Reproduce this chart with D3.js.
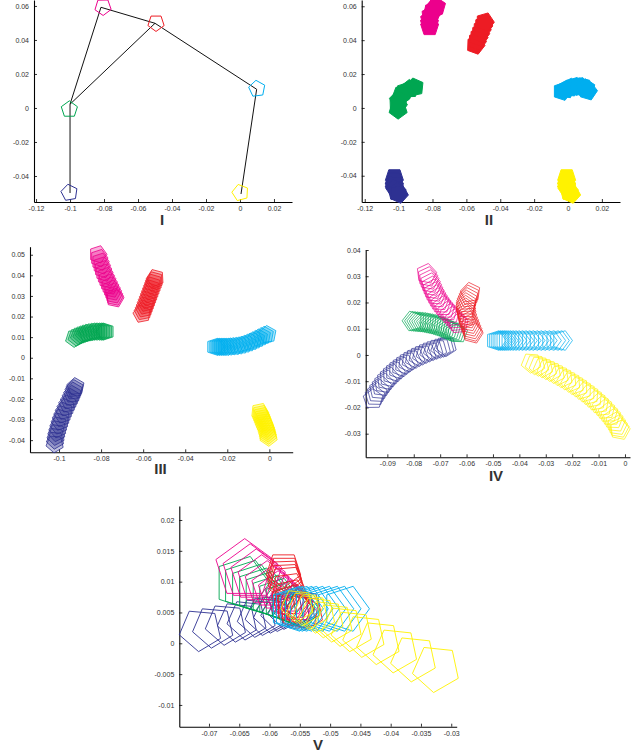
<!DOCTYPE html>
<html>
<head>
<meta charset="utf-8">
<script src="https://cdn.jsdelivr.net/npm/d3@7"></script>
<style>
  body { margin: 0; background: #fff; }
  svg text { font-family: "Liberation Sans", Arial, sans-serif; }
</style>
</head>
<body>
<div id="chart"></div>
<script>
// colour order used by every sweep list below
const colorNames = ["blue", "green", "pink", "red", "cyan", "yellow"];
const colors = ["#2e3192", "#00a651", "#ec008c", "#ed1c24", "#00aeef", "#fff200"];

// pose = [x, y, orientation in degrees (ccw)], panel V adds a radius
// panel I : one pose per body, plus the links between joints
const posesI = [
  [[-0.1004, -0.0498, 100]],
  [[-0.1004, -0.0008, 90]],
  [[-0.0806, 0.0594, 55]],
  [[-0.0494, 0.0500, -90]],
  [[0.0100, 0.0113, 25]],
  [[0.0002, -0.0498, 105]]
];
const jointsI = [[-0.1, -0.05], [-0.1, 0.0022], [-0.0818, 0.0592], [-0.05, 0.0498], [0.0098, 0.011], [0.0006, -0.0506]];
const linksI = [[0, 1], [1, 2], [2, 3], [3, 4], [4, 5], [1, 3]];
const radiusI = 0.005;

// panel II : filled sweeps
const posesII = [
  [[-0.1025, -0.0410, -90], [-0.1026, -0.0432, -90], [-0.1025, -0.0454, -95], [-0.1020, -0.0476, -110], [-0.1010, -0.0496, -130], [-0.0998, -0.0508, -150]],
  [[-0.0905, 0.0122, 30], [-0.0935, 0.0112, 20], [-0.0962, 0.0097, 0], [-0.0985, 0.0075, -20], [-0.0999, 0.0048, -45], [-0.1004, 0.0018, -70], [-0.1003, -0.0010, -90]],
  [[-0.0817, 0.0478, 90], [-0.0818, 0.0500, 90], [-0.0817, 0.0522, 90], [-0.0812, 0.0544, 80], [-0.0802, 0.0566, 60], [-0.0789, 0.0585, 40], [-0.0776, 0.0598, 20]],
  [[-0.0546, 0.0371, 70], [-0.0537, 0.0394, 70], [-0.0528, 0.0417, 70], [-0.0518, 0.0440, 70], [-0.0509, 0.0463, 70], [-0.0500, 0.0486, 70], [-0.0491, 0.0508, 70]],
  [[-0.0035, 0.0098, 0], [-0.0012, 0.0110, 10], [0.0012, 0.0120, 10], [0.0037, 0.0127, 0], [0.0062, 0.0129, -10], [0.0086, 0.0126, -30], [0.0106, 0.0116, -50], [0.0118, 0.0100, -70]],
  [[-0.0008, -0.0410, -90], [-0.0009, -0.0432, -90], [-0.0008, -0.0454, -95], [-0.0003, -0.0476, -110], [0.0007, -0.0496, -130], [0.0019, -0.0508, -150]]
];
const radiusII = 0.0056;

// panel III
const posesIII = [
  [[-0.1020, -0.0418, -95], [-0.1018, -0.0400, -96], [-0.1015, -0.0382, -98], [-0.1011, -0.0364, -100], [-0.1006, -0.0346, -102], [-0.1001, -0.0328, -104], [-0.0995, -0.0310, -106], [-0.0989, -0.0292, -108], [-0.0982, -0.0275, -110], [-0.0975, -0.0258, -112], [-0.0967, -0.0241, -114], [-0.0959, -0.0224, -116], [-0.0951, -0.0208, -118], [-0.0943, -0.0192, -120], [-0.0936, -0.0177, -120], [-0.0930, -0.0162, -120], [-0.0925, -0.0150, -120], [-0.0921, -0.0140, -120]],
  [[-0.0928, 0.0094, -162], [-0.0916, 0.0100, -164], [-0.0904, 0.0106, -166], [-0.0892, 0.0111, -168], [-0.0880, 0.0115, -170], [-0.0868, 0.0119, -172], [-0.0856, 0.0122, -174], [-0.0844, 0.0124, -176], [-0.0832, 0.0126, -178], [-0.0820, 0.0127, 180], [-0.0808, 0.0127, 180], [-0.0796, 0.0127, 180], [-0.0786, 0.0127, 180], [-0.0778, 0.0127, 180]],
  [[-0.0815, 0.0502, -72], [-0.0810, 0.0484, -72], [-0.0804, 0.0466, -72], [-0.0798, 0.0448, -72], [-0.0792, 0.0430, -71], [-0.0786, 0.0413, -70], [-0.0779, 0.0396, -69], [-0.0772, 0.0380, -68], [-0.0765, 0.0364, -67], [-0.0758, 0.0349, -66], [-0.0751, 0.0334, -66], [-0.0745, 0.0320, -66], [-0.0740, 0.0306, -66], [-0.0736, 0.0295, -66], [-0.0734, 0.0287, -66]],
  [[-0.0606, 0.0212, -115], [-0.0600, 0.0225, -115], [-0.0595, 0.0238, -114], [-0.0590, 0.0252, -113], [-0.0585, 0.0266, -112], [-0.0580, 0.0280, -111], [-0.0575, 0.0294, -110], [-0.0570, 0.0308, -110], [-0.0565, 0.0322, -109], [-0.0560, 0.0336, -108], [-0.0555, 0.0350, -107], [-0.0550, 0.0364, -106], [-0.0546, 0.0376, -105], [-0.0542, 0.0387, -105]],
  [[-0.0258, 0.0053, 0], [-0.0248, 0.0053, 0], [-0.0238, 0.0053, 0], [-0.0228, 0.0053, 0], [-0.0218, 0.0053, 0], [-0.0206, 0.0053, 0], [-0.0194, 0.0054, 2], [-0.0180, 0.0055, 4], [-0.0165, 0.0056, 6], [-0.0150, 0.0058, 8], [-0.0135, 0.0061, 11], [-0.0120, 0.0065, 14], [-0.0105, 0.0070, 17], [-0.0090, 0.0076, 20], [-0.0076, 0.0082, 22], [-0.0062, 0.0089, 24], [-0.0048, 0.0096, 25], [-0.0034, 0.0103, 25], [-0.0020, 0.0109, 25], [-0.0008, 0.0113, 25]],
  [[-0.0046, -0.0262, -78], [-0.0042, -0.0272, -78], [-0.0038, -0.0282, -78], [-0.0034, -0.0292, -79], [-0.0030, -0.0302, -80], [-0.0026, -0.0312, -81], [-0.0022, -0.0322, -82], [-0.0018, -0.0332, -83], [-0.0014, -0.0343, -84], [-0.0011, -0.0354, -85], [-0.0008, -0.0365, -86], [-0.0006, -0.0376, -87], [-0.0004, -0.0386, -88]]
];
const radiusIII = 0.0043;

// panel IV
const posesIV = [
  [[-0.0954, -0.0168, -125], [-0.0947, -0.0156, -127], [-0.0939, -0.0144, -129], [-0.0931, -0.0132, -131], [-0.0922, -0.0120, -133], [-0.0913, -0.0108, -135], [-0.0903, -0.0096, -137], [-0.0893, -0.0085, -139], [-0.0882, -0.0074, -141], [-0.0871, -0.0064, -143], [-0.0859, -0.0054, -145], [-0.0847, -0.0045, -147], [-0.0835, -0.0036, -149], [-0.0822, -0.0027, -151], [-0.0809, -0.0019, -153], [-0.0796, -0.0012, -155], [-0.0782, -0.0005, -157], [-0.0768, 0.0001, -159], [-0.0754, 0.0007, -161], [-0.0740, 0.0013, -162], [-0.0726, 0.0018, -163], [-0.0712, 0.0023, -164], [-0.0698, 0.0027, -165], [-0.0685, 0.0031, -165], [-0.0676, 0.0033, -165]],
  [[-0.0805, 0.0129, 178], [-0.0796, 0.0128, 177], [-0.0787, 0.0127, 176], [-0.0778, 0.0126, 175], [-0.0769, 0.0125, 174], [-0.0760, 0.0124, 173], [-0.0751, 0.0123, 172], [-0.0742, 0.0121, 171], [-0.0733, 0.0119, 170], [-0.0724, 0.0117, 169], [-0.0715, 0.0115, 168], [-0.0706, 0.0112, 167], [-0.0697, 0.0109, 166], [-0.0688, 0.0106, 165], [-0.0679, 0.0102, 164], [-0.0670, 0.0098, 163], [-0.0661, 0.0094, 162], [-0.0652, 0.0090, 161], [-0.0643, 0.0086, 160], [-0.0634, 0.0083, 160]],
  [[-0.0752, 0.0310, -65], [-0.0748, 0.0298, -65], [-0.0743, 0.0286, -64], [-0.0738, 0.0274, -63], [-0.0733, 0.0262, -62], [-0.0728, 0.0250, -61], [-0.0723, 0.0239, -60], [-0.0717, 0.0228, -59], [-0.0711, 0.0217, -58], [-0.0704, 0.0206, -57], [-0.0697, 0.0196, -56], [-0.0689, 0.0186, -55], [-0.0681, 0.0176, -54], [-0.0672, 0.0166, -53], [-0.0663, 0.0156, -52], [-0.0654, 0.0146, -51], [-0.0645, 0.0136, -50], [-0.0637, 0.0127, -49], [-0.0630, 0.0119, -48]],
  [[-0.0585, 0.0238, 100], [-0.0589, 0.0228, 100], [-0.0593, 0.0218, 98], [-0.0597, 0.0208, 96], [-0.0600, 0.0198, 94], [-0.0602, 0.0188, 92], [-0.0603, 0.0178, 90], [-0.0603, 0.0168, 88], [-0.0602, 0.0158, 86], [-0.0600, 0.0148, 84], [-0.0597, 0.0138, 82], [-0.0593, 0.0128, 80], [-0.0589, 0.0118, 78], [-0.0585, 0.0108, 77], [-0.0581, 0.0098, 76], [-0.0578, 0.0089, 75], [-0.0576, 0.0082, 75]],
  [[-0.0489, 0.0055, 0], [-0.0482, 0.0055, 0], [-0.0475, 0.0055, 0], [-0.0468, 0.0055, 0], [-0.0461, 0.0055, 0], [-0.0453, 0.0055, 0], [-0.0444, 0.0055, 0], [-0.0434, 0.0055, 0], [-0.0423, 0.0055, 0], [-0.0411, 0.0055, 0], [-0.0398, 0.0055, 0], [-0.0385, 0.0055, 0], [-0.0371, 0.0055, 0], [-0.0357, 0.0055, 0], [-0.0342, 0.0055, 0], [-0.0327, 0.0055, 0], [-0.0312, 0.0055, 0], [-0.0296, 0.0055, 0], [-0.0280, 0.0055, 0], [-0.0264, 0.0055, 0], [-0.0250, 0.0055, 0], [-0.0238, 0.0055, 0]],
  [[-0.0355, -0.0030, -22], [-0.0340, -0.0036, -22], [-0.0325, -0.0042, -23], [-0.0310, -0.0048, -24], [-0.0295, -0.0055, -25], [-0.0280, -0.0062, -26], [-0.0265, -0.0070, -27], [-0.0250, -0.0078, -28], [-0.0235, -0.0086, -30], [-0.0220, -0.0095, -31], [-0.0205, -0.0104, -32], [-0.0191, -0.0113, -34], [-0.0177, -0.0122, -35], [-0.0163, -0.0132, -37], [-0.0149, -0.0142, -38], [-0.0136, -0.0152, -40], [-0.0123, -0.0163, -42], [-0.0110, -0.0174, -44], [-0.0098, -0.0185, -46], [-0.0086, -0.0196, -48], [-0.0075, -0.0208, -50], [-0.0064, -0.0220, -52], [-0.0054, -0.0232, -54], [-0.0045, -0.0244, -57], [-0.0036, -0.0256, -60], [-0.0029, -0.0268, -62], [-0.0023, -0.0278, -64], [-0.0019, -0.0286, -65]]
];
const radiusIV = 0.0039;

// panel V : [x, y, orientation, radius]
const posesV = [
  [[-0.0714, 0.00217, -167, 0.0036], [-0.0693, 0.00264, -167, 0.0035], [-0.0672, 0.0031, -167, 0.0035], [-0.0653, 0.00351, -168, 0.0034], [-0.0637, 0.00385, -168, 0.0034], [-0.0621, 0.00419, -168, 0.0033], [-0.0608, 0.00449, -169, 0.0033], [-0.0595, 0.00476, -169, 0.0032], [-0.0583, 0.00503, -170, 0.0032], [-0.0572, 0.00527, -170, 0.0031], [-0.0562, 0.00548, -170, 0.0031], [-0.0553, 0.00569, -170, 0.0030], [-0.0544, 0.00587, -170, 0.0030]],
  [[-0.0646, 0.00979, 0, 0.0046], [-0.0637, 0.00935, 0, 0.0044], [-0.0627, 0.00891, 0, 0.0042], [-0.0617, 0.00848, 0, 0.0040], [-0.0607, 0.00804, 0, 0.0039], [-0.0597, 0.0076, 0, 0.0037], [-0.0587, 0.00718, 0, 0.0036], [-0.0577, 0.00674, 0, 0.0035], [-0.0568, 0.0063, 0, 0.0034], [-0.0558, 0.00587, 0, 0.0033], [-0.0549, 0.00543, 0, 0.0032]],
  [[-0.0641, 0.01207, 90, 0.0050], [-0.0632, 0.01152, 90, 0.0047], [-0.0622, 0.01098, 90, 0.0044], [-0.0613, 0.01033, 90, 0.0041], [-0.0604, 0.00967, 90, 0.0038], [-0.0595, 0.00907, 90, 0.0036], [-0.0586, 0.00842, 90, 0.0034], [-0.0577, 0.00777, 90, 0.0032], [-0.0569, 0.00718, 90, 0.0030], [-0.0561, 0.00653, 90, 0.0029], [-0.0555, 0.00608, 90, 0.0028]],
  [[-0.0577, 0.01196, -90, 0.0030], [-0.0576, 0.01140, -90, 0.0030], [-0.0575, 0.01087, -88, 0.0030], [-0.0574, 0.01030, -87, 0.0030], [-0.0572, 0.00979, -85, 0.0030], [-0.0569, 0.0087, -82, 0.0030], [-0.0566, 0.0076, -78, 0.0030], [-0.0564, 0.0068, -74, 0.0030], [-0.0561, 0.0060, -70, 0.0030], [-0.0555, 0.0052, -65, 0.0030], [-0.0547, 0.0050, -45, 0.0030], [-0.0540, 0.0050, -25, 0.0030]],
  [[-0.0562, 0.0056, 0, 0.0039], [-0.0557, 0.0056, 0, 0.0039], [-0.0550, 0.0056, 0, 0.0039], [-0.0542, 0.0056, 0, 0.0039], [-0.0534, 0.0056, 0, 0.0039], [-0.0524, 0.0056, 0, 0.0039], [-0.0513, 0.0056, 0, 0.0039], [-0.0500, 0.0056, 0, 0.0039], [-0.0488, 0.0056, 0, 0.0039], [-0.0474, 0.0056, 0, 0.0039]],
  [[-0.0554, 0.00613, -24, 0.0028], [-0.0543, 0.00565, -24, 0.0029], [-0.0532, 0.00516, -24, 0.0030], [-0.0521, 0.00467, -24, 0.0031], [-0.0508, 0.00402, -24, 0.0032], [-0.0494, 0.00342, -24, 0.0033], [-0.0480, 0.00282, -24, 0.0034], [-0.0464, 0.00206, -24, 0.0035], [-0.0444, 0.00124, -24, 0.0036], [-0.0420, 0.00016, -24, 0.0037], [-0.0392, -0.00109, -24, 0.0038], [-0.0362, -0.00245, -24, 0.0039], [-0.0325, -0.00408, -24, 0.0040]]
];

// tick values
const ticksIx = [-0.12, -0.1, -0.08, -0.06, -0.04, -0.02, 0, 0.02];
const ticksIy = [-0.04, -0.02, 0, 0.02, 0.04, 0.06];
const ticksIIIx = [-0.1, -0.08, -0.06, -0.04, -0.02, 0];
const ticksIIIy = [-0.04, -0.03, -0.02, -0.01, 0, 0.01, 0.02, 0.03, 0.04, 0.05];
const ticksIVx = [-0.09, -0.08, -0.07, -0.06, -0.05, -0.04, -0.03, -0.02, -0.01, 0];
const ticksIVy = [-0.03, -0.02, -0.01, 0, 0.01, 0.02, 0.03, 0.04];
const ticksVx = [-0.07, -0.065, -0.06, -0.055, -0.05, -0.045, -0.04, -0.035, -0.03];
const ticksVy = [-0.01, -0.005, 0, 0.005, 0.01, 0.015, 0.02];
const panelTitles = ["I", "II", "III", "IV", "V"];

const W = 642, H = 755;
const fmt = v => String(parseFloat(v.toFixed(4)));

const panels = [
  { poses: posesI, r: radiusI, x: [-0.1212, 0.0306], xr: [34, 292], y: [-0.0553, 0.0635], yr: [202, 0], xt: ticksIx, yt: ticksIy, title: [162, 225], sw: 1, fillOp: 0 },
  { poses: posesII, r: radiusII, x: [-0.1218, 0.0307], xr: [361.7, 620], y: [-0.0555, 0.0637], yr: [202, 0], xt: ticksIx, yt: ticksIy, title: [489, 225], sw: 1, fillOp: 1 },
  { poses: posesIII, r: radiusIII, x: [-0.1138, 0.0111], xr: [30, 292.7], y: [-0.0459, 0.0539], yr: [452.3, 246.7], xt: ticksIIIx, yt: ticksIIIy, title: [160.5, 474], sw: 0.8, fillOp: 0.3 },
  { poses: posesIV, r: radiusIV, x: [-0.0982, 0.0019], xr: [365.7, 630], y: [-0.039, 0.04], yr: [457.3, 250], xt: ticksIVx, yt: ticksIVy, title: [496, 481], sw: 0.7, fillOp: 0 },
  { poses: posesV, r: null, x: [-0.0749, -0.0291], xr: [179.3, 456.7], y: [-0.01353, 0.02227], yr: [726.7, 506], xt: ticksVx, yt: ticksVy, title: [318, 750], sw: 0.9, fillOp: 0 }
];

const svg = d3.select("#chart").append("svg")
  .attr("width", W).attr("height", H);

function pentagonPath(sx, sy, pose, r) {
  const cx = sx(pose[0]), cy = sy(pose[1]);
  const rr = r * Math.abs(sx(1) - sx(0));
  const pts = d3.range(5).map(i => {
    const t = (pose[2] + i * 72) * Math.PI / 180;
    return [cx + rr * Math.cos(t), cy - rr * Math.sin(t)];
  });
  return "M" + pts.map(p => p[0].toFixed(2) + "," + p[1].toFixed(2)).join("L") + "Z";
}

panels.forEach((p, pi) => {
  const sx = d3.scaleLinear().domain(p.x).range(p.xr);
  const sy = d3.scaleLinear().domain(p.y).range(p.yr);
  const g = svg.append("g");

  // axes
  const xAxis = g.append("g")
    .attr("transform", "translate(0," + p.yr[0] + ")")
    .call(d3.axisBottom(sx).tickValues(p.xt).tickFormat(fmt).tickSizeInner(-3).tickSizeOuter(0).tickPadding(4));
  const yAxis = g.append("g")
    .attr("transform", "translate(" + p.xr[0] + ",0)")
    .call(d3.axisLeft(sy).tickValues(p.yt).tickFormat(fmt).tickSizeInner(-3).tickSizeOuter(0).tickPadding(5));
  [xAxis, yAxis].forEach(a => {
    a.attr("font-size", 7).attr("font-family", "Liberation Sans, Arial, sans-serif");
    a.select(".domain").attr("stroke", "#000").attr("stroke-width", 1.1);
    a.selectAll(".tick line").attr("stroke", "#000").attr("stroke-width", 0.8);
    a.selectAll(".tick text").attr("fill", "#333");
  });

  // links in panel I
  if (pi === 0) {
    g.append("g").selectAll("line")
      .data(linksI)
      .join("line")
      .attr("x1", d => sx(jointsI[d[0]][0]))
      .attr("y1", d => sy(jointsI[d[0]][1]))
      .attr("x2", d => sx(jointsI[d[1]][0]))
      .attr("y2", d => sy(jointsI[d[1]][1]))
      .attr("stroke", "#111")
      .attr("stroke-width", 1);
  }

  // sweeps of pentagons
  p.poses.forEach((series, ci) => {
    g.append("g")
      .attr("class", "sweep " + colorNames[ci])
      .selectAll("path")
      .data(series)
      .join("path")
      .attr("d", d => pentagonPath(sx, sy, d, p.r === null ? d[3] : p.r))
      .attr("fill", p.fillOp > 0 ? colors[ci] : "none")
      .attr("fill-opacity", p.fillOp)
      .attr("stroke", colors[ci])
      .attr("stroke-width", p.sw)
      .attr("stroke-linejoin", "miter");
  });

  // panel title
  svg.append("text")
    .attr("x", p.title[0]).attr("y", p.title[1])
    .attr("text-anchor", "middle")
    .attr("font-size", 15)
    .attr("font-weight", "bold")
    .attr("fill", "#333")
    .text(panelTitles[pi]);
});
</script>
</body>
</html>
